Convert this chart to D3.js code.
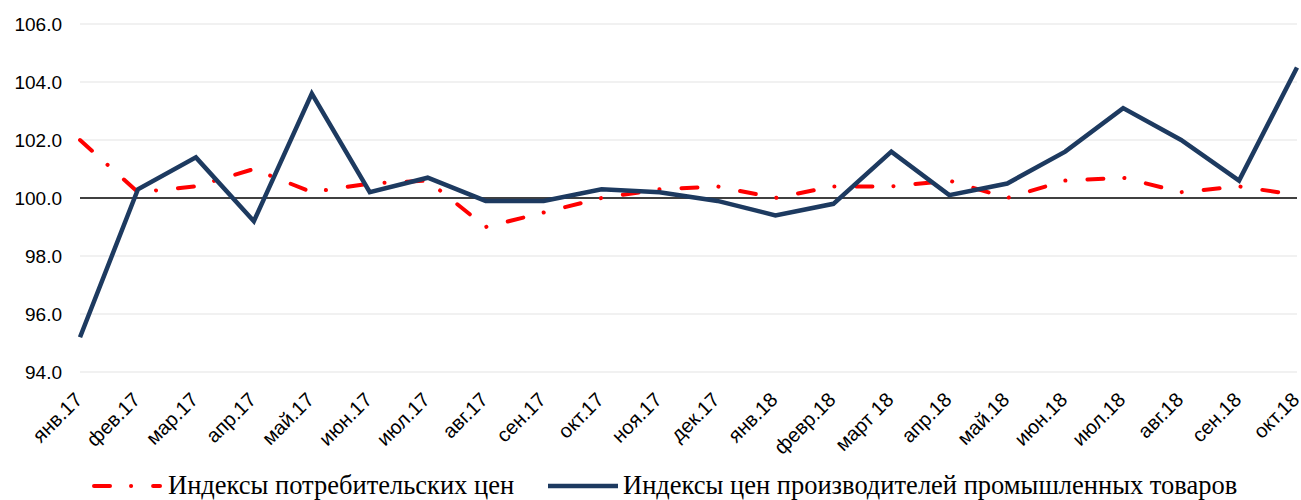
<!DOCTYPE html>
<html><head><meta charset="utf-8">
<script src="https://cdn.jsdelivr.net/npm/d3@7"></script>
<style>body{margin:0;background:#fff}svg{display:block}</style>
</head><body>
<svg id="c" width="1301" height="500"></svg>
<script>
const categories = ["янв.17","фев.17","мар.17","апр.17","май.17","июн.17","июл.17","авг.17","сен.17","окт.17","ноя.17","дек.17","янв.18","февр.18","март 18","апр.18","май.18","июн.18","июл.18","авг.18","сен.18","окт.18"];
const cpi = [102.0,100.2,100.4,101.0,100.2,100.5,100.6,99.0,99.5,100.0,100.3,100.4,100.0,100.4,100.4,100.6,100.0,100.6,100.7,100.2,100.4,100.1];
const ppi = [95.2,100.3,101.4,99.2,103.6,100.2,100.7,99.9,99.9,100.3,100.2,99.9,99.4,99.8,101.6,100.1,100.5,101.6,103.1,102.0,100.6,104.5];
const yTicks = [94,96,98,100,102,104,106];
const seriesNames = ["Индексы потребительских цен","Индексы цен производителей промышленных товаров"];

const SANS = '"Liberation Sans", Arial, sans-serif';
const SERIF = '"Liberation Serif", "Times New Roman", serif';

const svg = d3.select("#c");
const x = d3.scalePoint().domain(categories).range([80, 1297]);
const y = d3.scaleLinear().domain([94,106]).range([372, 24]);

// gridlines
svg.append("g").selectAll("line").data(yTicks.filter(d=>d!==100)).join("line")
  .attr("x1",80).attr("x2",1297).attr("y1",d=>y(d)).attr("y2",d=>y(d))
  .attr("stroke","#ececec").attr("stroke-width",1.5);

// y axis labels
const ya = svg.append("g").attr("transform","translate(80,0)")
  .call(d3.axisLeft(y).tickValues(yTicks).tickFormat(d3.format(".1f")).tickSize(0).tickPadding(18));
ya.select(".domain").remove();
ya.selectAll("text").style("font-family",SANS).style("font-size","19px").attr("fill","#000");

// baseline 100
svg.append("line").attr("x1",80).attr("x2",1297).attr("y1",y(100)).attr("y2",y(100))
  .attr("stroke","#000").attr("stroke-width",1.5);

// x axis labels
const xa = svg.append("g").attr("transform","translate(0,372)")
  .call(d3.axisBottom(x).tickSize(0).tickPadding(0));
xa.select(".domain").remove();
xa.selectAll("text")
  .style("font-family",SANS).style("font-size","20px").attr("fill","#000")
  .attr("text-anchor","end").attr("x",0).attr("y",0).attr("dy","0")
  .attr("transform","translate(3,29) rotate(-45)");

const line = d3.line().x((d,i)=>x(categories[i])).y(d=>y(d));

svg.append("path").datum(cpi).attr("d",line).attr("fill","none")
  .attr("stroke","#ff0000").attr("stroke-width",4).attr("stroke-linecap","round")
  .attr("stroke-dasharray","16,21,0.1,22");
svg.append("path").datum(ppi).attr("d",line).attr("fill","none")
  .attr("stroke","#1d3a60").attr("stroke-width",4.5).attr("stroke-linejoin","miter");

// legend
const lg = svg.append("g");
lg.append("line").attr("x1",94).attr("x2",160).attr("y1",486).attr("y2",486)
  .attr("stroke","#ff0000").attr("stroke-width",4).attr("stroke-linecap","round")
  .attr("stroke-dasharray","16,21,0.1,22");
lg.append("text").attr("x",168).attr("y",494).text(seriesNames[0])
  .style("font-family",SERIF).style("font-size","26.5px").attr("fill","#000");
lg.append("line").attr("x1",548).attr("x2",618).attr("y1",486).attr("y2",486)
  .attr("stroke","#1d3a60").attr("stroke-width",4.5);
lg.append("text").attr("x",623).attr("y",494).text(seriesNames[1])
  .style("font-family",SERIF).style("font-size","26.5px").attr("fill","#000");
</script>
</body></html>
